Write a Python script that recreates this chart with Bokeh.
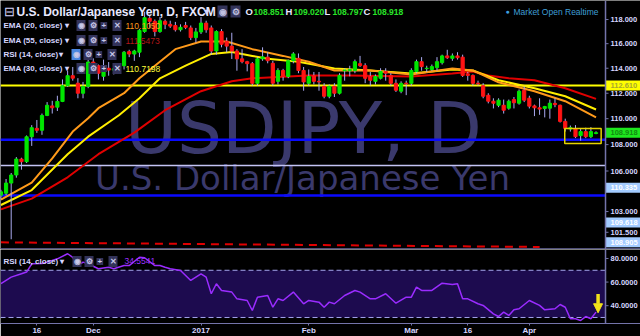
from bokeh.plotting import figure
from bokeh.layouts import column
from bokeh.models import (Range1d, Span, Label, BoxAnnotation, Arrow, NormalHead, FixedTicker)
from bokeh.core.properties import value
from bokeh.embed import file_html
from bokeh.resources import INLINE

# ---------------- data ----------------
opens = [104.2, 104.35, 105.1, 105.7, 106.9, 106.7, 108.6, 109.25, 109.1, 110.25,
         111.0, 110.9, 111.35, 112.6, 113.4, 112.8, 112.0, 112.55, 114.5, 114.2,
         113.35, 114.0, 113.85, 114.1, 114.2, 115.35, 115.15, 115.3, 117.0, 118.1,
         117.85, 117.0, 117.85, 117.6, 117.5, 117.15, 117.5, 117.3, 116.5, 116.97,
         117.7, 117.3, 115.4, 117.0, 116.2, 115.8, 115.4, 114.76, 114.53, 114.37,
         112.79, 114.76, 114.9, 114.4, 112.95, 113.82, 113.34, 114.61, 114.8, 113.82,
         112.79, 113.4, 112.95, 112.55, 111.76, 112.55, 112.0, 113.8, 113.8, 113.82,
         114.37, 114.21, 113.34, 112.95, 113.19, 113.74, 113.42, 112.79, 112.16, 112.8,
         112.79, 113.74, 114.53, 113.97, 113.9, 114.05, 114.45, 115.0, 114.8, 115.0,
         114.9, 113.55, 113.42, 112.8, 112.6, 111.84, 111.37, 111.05, 111.05, 110.82,
         111.5, 111.21, 112.24, 111.61, 111.0, 110.85, 110.8, 110.82, 111.2, 111.05,
         109.79, 109.2, 109.24, 108.69, 109.0, 108.61, 108.851]
highs = [104.6, 105.4, 105.85, 107.05, 107.0, 108.7, 109.5, 109.9, 110.4, 111.3,
         111.4, 111.8, 113.1, 113.8, 114.1, 113.2, 112.9, 114.8, 114.8, 114.3,
         114.7, 114.5, 114.3, 114.4, 115.4, 115.5, 115.5, 117.2, 118.65, 118.3,
         118.0, 118.2, 118.0, 117.9, 117.8, 117.6, 117.8, 117.5, 117.3, 118.2,
         117.9, 117.5, 117.1, 117.2, 116.5, 116.9, 115.55, 115.55, 114.6, 114.5,
         114.9, 115.7, 115.3, 114.6, 114.0, 113.95, 114.7, 115.3, 115.2, 114.1,
         113.9, 113.7, 113.7, 112.8, 112.7, 112.8, 113.6, 114.0, 114.2, 114.7,
         115.0, 114.4, 113.7, 113.5, 114.0, 114.0, 113.6, 113.1, 112.95, 113.0,
         114.0, 114.7, 114.9, 114.2, 114.3, 114.9, 115.1, 115.5, 115.2, 115.3,
         115.1, 113.7, 113.5, 113.0, 112.8, 112.0, 111.6, 111.6, 111.5, 111.5,
         111.7, 112.3, 112.55, 111.8, 111.1, 111.6, 111.0, 111.5, 111.6, 111.1,
         110.0, 109.47, 109.5, 109.24, 109.3, 109.35, 109.02]
lows = [103.9, 104.2, 101.0, 105.5, 106.1, 106.6, 107.9, 108.9, 108.75, 110.2,
        110.4, 110.6, 111.3, 112.5, 113.0, 111.6, 111.6, 112.4, 113.8, 113.1,
        113.0, 113.4, 113.5, 113.6, 113.9, 114.9, 114.6, 114.9, 116.9, 117.3,
        116.6, 116.9, 117.2, 117.3, 117.0, 117.0, 117.2, 116.3, 116.1, 116.8,
        116.9, 115.1, 115.1, 115.7, 115.3, 114.75, 113.8, 114.4, 113.75, 112.6,
        112.6, 114.6, 114.4, 112.6, 112.7, 113.0, 113.2, 114.4, 113.6, 112.2,
        112.6, 112.7, 112.2, 111.6, 111.6, 111.7, 111.9, 113.0, 113.35, 113.6,
        114.1, 112.8, 112.6, 112.7, 113.1, 113.0, 112.6, 112.1, 112.0, 111.85,
        112.6, 113.6, 113.8, 113.7, 113.8, 113.8, 114.3, 114.75, 114.6, 114.7,
        113.3, 113.0, 112.6, 112.6, 111.6, 111.2, 110.8, 110.9, 110.4, 110.7,
        110.8, 111.1, 111.3, 110.8, 110.2, 110.3, 110.1, 110.0, 110.9, 109.7,
        109.0, 109.0, 108.5, 108.3, 108.5, 108.5, 108.797]
closes = [104.45, 105.1, 105.7, 106.9, 106.7, 108.6, 109.3, 109.1, 110.25, 111.05,
          110.85, 111.35, 112.6, 113.4, 113.2, 112.0, 112.55, 114.5, 114.2, 113.6,
          113.95, 113.85, 113.95, 113.85, 115.3, 115.15, 115.4, 117.1, 118.15, 117.85,
          117.0, 117.9, 117.6, 117.45, 117.15, 117.35, 117.35, 116.5, 116.97, 117.7,
          117.15, 115.4, 117.0, 115.95, 115.8, 115.4, 114.76, 114.53, 114.37, 112.79,
          114.76, 114.92, 114.61, 112.8, 113.82, 113.34, 114.61, 115.16, 113.82, 112.9,
          113.34, 112.95, 112.9, 111.76, 112.55, 112.0, 113.42, 113.85, 113.9, 114.53,
          114.21, 113.19, 113.03, 113.34, 113.74, 113.6, 112.79, 112.24, 112.79, 112.75,
          113.82, 114.53, 114.13, 114.0, 114.13, 114.53, 115.0, 114.85, 115.0, 114.85,
          113.42, 113.42, 112.79, 112.75, 111.76, 111.37, 111.21, 111.45, 110.66, 111.37,
          111.25, 112.16, 111.45, 110.98, 110.85, 110.75, 110.95, 111.21, 111.1, 109.79,
          109.24, 109.3, 108.61, 109.0, 108.61, 109.0, 108.918]

ema20_idx = [0, 6, 10, 14, 17, 19, 24, 27, 34, 39, 44, 49, 55, 60, 65, 72, 80, 88, 92, 97, 104, 110, 116]
ema20_val = [103.87, 105.13, 106.95, 109.0, 110.03, 110.82, 112.0, 113.19, 115.55, 116.18, 116.18,
             115.55, 115.0, 114.53, 113.82, 113.82, 113.5, 113.97, 113.82, 112.87, 112.16, 111.37, 110.105]
ema30_idx = [0, 6, 13, 17, 23, 27, 31, 36, 41, 45, 49, 52, 58, 65, 72, 80, 88, 92, 97, 104, 110, 116]
ema30_val = [103.48, 104.58, 107.27, 108.61, 110.27, 111.61, 113.19, 114.21, 115.16, 115.32, 115.0,
             114.76, 114.53, 113.97, 113.82, 113.58, 113.9, 113.82, 113.03, 112.4, 111.76, 110.72]
ema55_idx = [0, 6, 13, 19, 26, 32, 39, 45, 49, 56, 60, 68, 80, 88, 92, 95, 99, 104, 110, 116]
ema55_val = [103.16, 103.95, 105.53, 107.27, 108.92, 110.66, 112.16, 112.95, 113.19, 113.34, 113.42,
             113.42, 113.34, 113.58, 113.74, 113.42, 113.19, 113.03, 112.4, 111.55]

rsi_idx = [0, 2, 4, 5, 6, 8, 9, 11, 13, 14, 15, 16, 17, 19, 21, 22, 24, 25, 27, 28,
           30, 31, 32, 33, 35, 37, 38, 39, 40, 41, 42, 43, 45, 46, 48, 49, 50, 52, 53, 54,
           55, 57, 59, 60, 62, 63, 64, 65, 67, 69, 70, 72, 73, 75, 77, 79, 80, 81, 82, 84,
           86, 88, 89, 90, 91, 93, 94, 96, 97, 98, 99, 100, 101, 103, 105, 106, 108, 109, 110, 111,
           112, 113, 114, 115, 116]
rsi_val = [58.6, 64.2, 67, 68.5, 75.5, 75.7, 76.9, 79.7, 84, 81, 74, 76.9, 75.5, 71.3, 72.6, 71.3, 74, 74, 81, 80.6,
           74, 74, 72.6, 71.3, 69.8, 61.4, 64.2, 67, 64.2, 50.1, 58.6, 52.9, 51.5, 45.8, 44.4, 35.9, 47.2, 48.6, 38.7, 45.8,
           44.4, 51.5, 41.6, 44.4, 43, 38.7, 43, 41.6, 48.6, 52.9, 51.5, 45.8, 45.8, 50.1, 42.1, 47.2, 47.2, 55.7, 52.9, 52.9,
           59.1, 58, 58.6, 45.8, 45.8, 41.6, 40.2, 33.1, 30.8, 34.5, 31.7, 36.5, 37.4, 44.4, 40.2, 36.5, 37.4, 41, 38.7, 28.9,
           28.9, 27.5, 30.8, 28.9, 34.55]

level_yellow = 112.61
levels_blue = [108.38, 104.17]
level_lavender = 106.41
red_dash_x = [0, 105]
red_dash_y = [100.78, 100.45]
box_x = [109.9, 117.0]
box_y = [108.08, 109.23]

price_ticks = [118, 116, 114, 112, 110, 108, 106, 103, 101.5]
rsi_ticks = [80, 60, 40]
date_tick_idx = [7, 18, 39, 60, 80, 91, 103]
date_tick_text = ["16", "Dec", "2017", "Feb", "Mar", "16", "Apr"]

tag_texts = ["112.610", "108.918", "110.335", "109.618", "108.905"]
tag_levels = [112.61, 108.918, 104.76, 102.2, 100.78]

ohlc_last = ["108.851", "109.020", "108.797", "108.918"]
ema_legend = [("EMA (20, close)", "110.1050", "#ff9a1a"),
              ("EMA (55, close)", "111.5473", "#b3171a"),
              ("RSI (14, close)", "", ""),
              ("EMA (30, close)", "110.7198", "#ffff3a")]
rsi_last = "34.5541"
arrow_x = 116.4
arrow_rsi = [50, 34]

# ---------------- styling / layout ----------------
BG = "#000000"
AX = "#7474aa"
TXT = "#d6d6ff"
FONT = "Liberation Sans"
PX = 5.13              # pixels per bar
X0 = -0.086            # left edge in bar units
AXX = 117.85           # price-scale line position (bar units)
XR = Range1d(X0, X0 + 640 / PX)
W = 640
H1 = 249
H2 = 74
LAB_X = AXX + 5 / PX
TAG_X = AXX + 17.5 / PX
AXFS = "7.5px"

p = figure(frame_width=W, frame_height=H1, x_range=XR, y_range=Range1d(100.27, 119.6),
           y_axis_type="log", y_axis_location=None, x_axis_location=None,
           toolbar_location=None, output_backend="svg", min_border=0,
           background_fill_color=BG, border_fill_color=BG, outline_line_color=None)
p.grid.visible = False

# watermark
p.add_layout(Label(x=303, y=H1 - 128, x_units="screen", y_units="screen", text="USDJPY, D",
                   text_align="center", text_baseline="alphabetic", text_font="DejaVu Sans",
                   text_font_size="71px", text_color="#3a396c", level="underlay"))
p.add_layout(Label(x=302, y=H1 - 177, x_units="screen", y_units="screen",
                   text="U.S. Dollar/Japanese Yen",
                   text_align="center", text_baseline="alphabetic", text_font="DejaVu Sans",
                   text_font_size="34px", text_color="#3a396c", level="underlay"))

# horizontal levels
p.segment(X0, level_yellow, AXX, level_yellow, line_color="#ffff00", line_width=2)
p.segment([X0] * len(levels_blue), levels_blue, [AXX] * len(levels_blue), levels_blue,
          line_color="#0a0aff", line_width=2.5)
p.segment(X0, level_lavender, AXX, level_lavender, line_color="#c4c4f4", line_width=1.5)
p.line(red_dash_x, red_dash_y, line_color="#e00000", line_width=2, line_dash="8 6")

# EMAs
p.line(ema55_idx, ema55_val, line_color="#e00000", line_width=2)
p.line(ema30_idx, ema30_val, line_color="#ffee00", line_width=2)
p.line(ema20_idx, ema20_val, line_color="#ff9a1a", line_width=2)

# candles
idx = list(range(len(opens)))
cols = ["#00e600" if c >= o else "#ff1414" for o, c in zip(opens, closes)]
p.segment(idx, highs, idx, lows, line_color="#aaaaf0", line_width=1)
p.vbar(x=idx, width=0.62, top=[max(o, c) for o, c in zip(opens, closes)],
       bottom=[min(o, c) for o, c in zip(opens, closes)], fill_color=cols, line_color=cols, line_width=1)

p.quad(left=[box_x[0]], right=[box_x[1]], bottom=[box_y[0]], top=[box_y[1]],
       fill_color=None, line_color="#e6d200", line_width=1.5)

# pane divider and price scale
p.add_layout(Span(location=100.27, dimension="width", line_color="#50507a", line_width=3))
p.add_layout(Span(location=AXX, dimension="height", line_color=AX, line_width=1.5))
p.segment([AXX] * len(price_ticks), price_ticks, [AXX + 3 / PX] * len(price_ticks), price_ticks,
          line_color=AX, line_width=1)
p.text(x=[LAB_X] * len(price_ticks), y=price_ticks, text=[f"{t:.3f}" for t in price_ticks],
       text_font=value(FONT), text_font_size=value(AXFS), text_font_style="bold",
       text_color=TXT, text_baseline="middle", text_align="left")

tag_bg = ["#ffff00", "#1ee61e", "#a3cbff", "#a3cbff", "#a3cbff"]
tag_fg = ["#a8a830", "#118a11", "#ffffff", "#ffffff", "#ffffff"]
p.rect(x=[TAG_X] * len(tag_levels), y=tag_levels, width=35, height=10,
       width_units="screen", height_units="screen", fill_color=tag_bg, line_color=None)
p.text(x=[LAB_X] * len(tag_levels), y=tag_levels, text=tag_texts,
       text_font=value(FONT), text_font_size=value(AXFS), text_font_style="bold",
       text_color=tag_fg, text_baseline="middle", text_align="left")

# header
def lab(fig, x, ytop, text, color=TXT, size="8px", bold=True, bg=None, h=H1):
    fig.add_layout(Label(x=x, y=h - ytop, x_units="screen", y_units="screen", text=text,
                         text_baseline="middle", text_align="left", text_font=FONT,
                         text_font_size=size, text_color=color,
                         text_font_style="bold" if bold else "normal",
                         background_fill_color=bg, padding=1 if bg else 0))

lab(p, 3, 11, "⊟", size="13px", bold=False)
lab(p, 16, 11, "U.S. Dollar/Japanese Yen, D, FXCM", color="#e8e8ff", size="12px")
lab(p, 203, 11, "▾", size="10px")
lab(p, 217, 11, "◉", color="#c0c0e0", size="9px", bg="#34345a")
lab(p, 230, 11, "⚙", color="#c0c0e0", size="9px", bg="#34345a")
green = "#28e628"
keys = [(245, "O"), (285, "H"), (324, "L"), (363, "C")]
vx = [253, 293, 332, 372]
for (x, k), v, val in zip(keys, vx, ohlc_last):
    lab(p, x, 11, k, color="#e8e8ff", size="9.5px")
    lab(p, v, 11, val, color=green, size="8.5px")
lab(p, 505, 11, "●", color="#3fa0e0", size="7px", bold=False)
lab(p, 513, 11, "Market Open Realtime", color="#3f9fd6", size="8.5px", bold=False)

row_y = [25, 40, 54, 68]
for (name, val, col), y in zip(ema_legend, row_y):
    lab(p, 3, y, name, size="8px")
    rsi = name.startswith("RSI")
    lab(p, 58 if rsi else 64, y, "▾", size="8px")
    b0 = 71 if rsi else 76
    for k, g in enumerate(["◉", "⚙", "+", "✕"]):
        lab(p, b0 + 12 * k, y, g, color="#c8c8e8", size="8px",
            bg="#4a86e0" if (rsi and k == 0) else "#33335a")
    if val:
        lab(p, 125, y, val, color=col, size="8.5px", bold=False)

# ---------------- RSI pane ----------------
p2 = figure(frame_width=W, frame_height=H2, x_range=XR, y_range=Range1d(24.9, 87.6),
            y_axis_location=None, x_axis_location="below",
            toolbar_location=None, output_backend="svg", min_border=0,
            background_fill_color=BG, border_fill_color=BG, outline_line_color=None)
p2.grid.visible = False
p2.add_layout(BoxAnnotation(bottom=30, top=70, right=AXX, fill_color="#1d0b4f", fill_alpha=1,
                            line_color=None, level="underlay"))
p2.segment([X0, X0], [30, 70], [AXX, AXX], [30, 70], line_color="#a4a4ee",
           line_width=1, line_dash="5 3")
p2.line(rsi_idx, rsi_val, line_color="#9a2cff", line_width=1.5)
p2.add_layout(Arrow(end=NormalHead(size=9, fill_color="#f2e21a", line_color="#f2e21a"),
                    x_start=arrow_x, y_start=arrow_rsi[0], x_end=arrow_x, y_end=arrow_rsi[1],
                    line_color="#f2e21a", line_width=3.5))
p2.add_layout(Span(location=AXX, dimension="height", line_color=AX, line_width=1.5))
p2.segment([AXX] * len(rsi_ticks), rsi_ticks, [AXX + 3 / PX] * len(rsi_ticks), rsi_ticks,
           line_color=AX, line_width=1)
p2.text(x=[LAB_X] * len(rsi_ticks), y=rsi_ticks, text=[f"{t:.4f}" for t in rsi_ticks],
        text_font=value(FONT), text_font_size=value(AXFS), text_font_style="bold",
        text_color=TXT, text_baseline="middle", text_align="left")

xa = p2.xaxis[0]
xa.ticker = FixedTicker(ticks=date_tick_idx)
xa.major_label_overrides = {i: t for i, t in zip(date_tick_idx, date_tick_text)}
xa.axis_line_color = AX
xa.major_tick_line_color = AX
xa.major_tick_out = 2
xa.major_tick_in = 0
xa.minor_tick_line_color = None
xa.major_label_text_color = TXT
xa.major_label_text_font = FONT
xa.major_label_text_font_style = "bold"
xa.major_label_text_font_size = "8px"
xa.major_label_standoff = 0

def lab2(x, yv, text, color=TXT, size="8px", bold=True, bg=None):
    p2.add_layout(Label(x=x, y=yv, x_units="screen", y_units="data", text=text,
                        text_baseline="middle", text_align="left", text_font=FONT,
                        text_font_size=size, text_color=color,
                        text_font_style="bold" if bold else "normal",
                        background_fill_color=bg, padding=1 if bg else 0))

lab2(3, 77.5, "RSI (14, close)")
lab2(59, 77.5, "▾")
for k, g in enumerate(["◉", "⚙", "+", "✕"]):
    lab2(72 + 12 * k, 77.5, g, color="#c8c8e8", size="8px", bg="#33335a")
lab2(124, 77.5, rsi_last, color="#9a30ff", size="8.5px", bold=False)

layout = column(p, p2, spacing=0)
open("out.html", "w").write(file_html(layout, INLINE))
